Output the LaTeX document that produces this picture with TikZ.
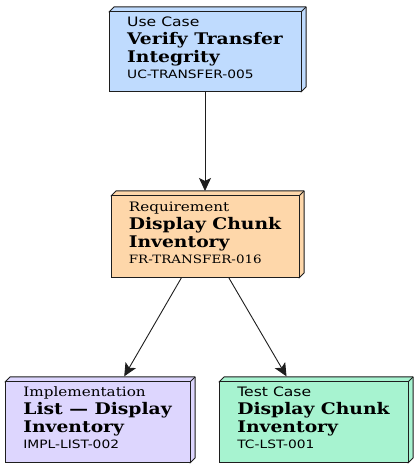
\documentclass[tikz,border=0pt]{standalone}
\usepackage{fontspec}
\usetikzlibrary{arrows.meta,calc}

\newfontfamily\sansfam[FakeStretch=1.2]{DejaVu Sans}
\newfontfamily\seriffam[FakeStretch=1.17]{DejaVu Serif}
\newfontfamily\titlefam[FakeStretch=1.17]{DejaVu Serif}

\definecolor{ucblue}{RGB}{191,219,254}
\definecolor{reqorange}{RGB}{254,215,170}
\definecolor{impllilac}{RGB}{221,214,254}
\definecolor{tcgreen}{RGB}{167,243,208}
\definecolor{edgegray}{RGB}{30,30,30}

\newcommand{\kindsans}[1]{{\sansfam\mdseries\fontsize{13}{18}\selectfont #1}}
\newcommand{\kindserif}[1]{{\seriffam\mdseries\fontsize{13}{18}\selectfont #1}}
\newcommand{\idsans}[1]{{\sansfam\mdseries\fontsize{11.5}{18}\selectfont #1}\rule[-9pt]{0pt}{9pt}}
\newcommand{\idserif}[1]{{\seriffam\mdseries\fontsize{11.5}{18}\selectfont #1}\rule[-9pt]{0pt}{9pt}}

\tikzset{
  box3d/.style={draw=edgegray, fill=#1, line width=1pt, outer sep=0pt, inner sep=0pt,
    align=left, font=\titlefam\bfseries\fontsize{16}{18}\selectfont,
    append after command={\pgfextra{
      \draw[draw=edgegray, fill=#1, line width=1pt, line join=round]
        (\tikzlastnode.north west) -- ++(5,5)
        -- ($(\tikzlastnode.north east)+(5,5)$)
        -- ($(\tikzlastnode.south east)+(5,5)$)
        -- (\tikzlastnode.south east) -- (\tikzlastnode.north east) -- cycle;
      \draw[draw=edgegray, line width=1pt] (\tikzlastnode.north east) -- ++(5,5);
    }}},
  link/.style={draw=edgegray, line width=0.9pt, -{Stealth[length=13pt, width=12pt, inset=3pt]}}
}

\begin{document}
\begin{tikzpicture}[x=1pt, y=1pt]
  \useasboundingbox (0,0) rectangle (418,469);

  \node[box3d=ucblue, minimum width=192pt, minimum height=80pt] (uc) at (205,417)
    {\kindsans{Use Case}\\ Verify Transfer\\ Integrity\\[-2pt] \idsans{UC-TRANSFER-005}};
  \node[box3d=reqorange, minimum width=188pt, minimum height=82pt] (req) at (205,232)
    {\kindserif{Requirement}\\ Display Chunk\\ Inventory\\[-2pt] \idserif{FR-TRANSFER-016}};
  \node[box3d=impllilac, minimum width=185pt, minimum height=81pt] (impl) at (97.5,46.5)
    {\kindserif{Implementation}\\ List — Display\\ Inventory\\[-2pt] \idsans{IMPL-LIST-002}};
  \node[box3d=tcgreen, minimum width=189pt, minimum height=81pt] (tc) at (313.5,46.5)
    {\kindsans{Test Case}\\ Display Chunk\\ Inventory\\[-2pt] \idsans{TC-LST-001}};

  \draw[link, shorten >=5pt] (uc) -- (req);
  \draw[link, shorten >=6.5pt] (req) -- (impl);
  \draw[link, shorten >=6.5pt] (req) -- (tc);
\end{tikzpicture}
\end{document}
